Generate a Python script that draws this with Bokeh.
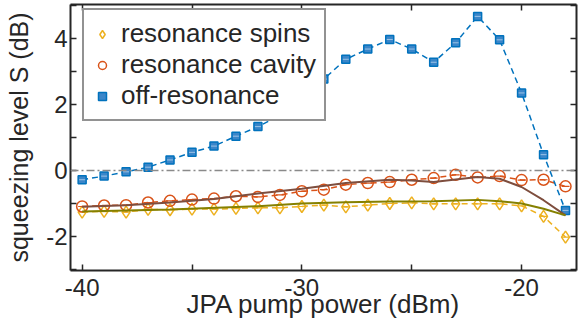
from bokeh.plotting import figure
from bokeh.models import (LinearAxis, FixedTicker, Span, Legend, LegendItem, Range1d,
                          CustomJSTickFormatter)
from bokeh.embed import file_html
from bokeh.resources import INLINE

# ---------------- data ----------------
power = [-40, -39, -38, -37, -36, -35, -34, -33, -32, -31, -30, -29,
         -28, -27, -26, -25, -24, -23, -22, -21, -20, -19, -18]

off_resonance = [-0.28, -0.17, -0.04, 0.10, 0.32, 0.55, 0.74, 1.04, 1.33, 1.67, 2.22, 2.77,
                 3.37, 3.68, 3.97, 3.68, 3.28, 3.87, 4.67, 3.96, 2.35, 0.48, -1.21]

res_cavity = [-1.09, -1.06, -1.05, -0.97, -0.92, -0.88, -0.85, -0.78, -0.80, -0.74, -0.63, -0.58,
              -0.43, -0.38, -0.35, -0.28, -0.23, -0.13, -0.21, -0.17, -0.29, -0.28, -0.48]

res_spins = [-1.26, -1.24, -1.26, -1.18, -1.19, -1.17, -1.17, -1.15, -1.13, -1.13, -1.09, -1.05,
             -1.10, -1.05, -1.00, -0.98, -1.01, -1.01, -1.01, -1.01, -1.07, -1.39, -2.02]

fit_cavity_x = [-40, -38, -36, -34, -32, -30, -28, -26, -25, -24, -23, -22, -21, -20, -19, -18]
fit_cavity_y = [-1.10, -1.05, -0.97, -0.86, -0.70, -0.55, -0.38, -0.28, -0.30, -0.35, -0.27,
                -0.20, -0.25, -0.50, -0.90, -1.36]

fit_spins_x = [-40, -36, -32, -30, -28, -26, -24, -22, -21, -20, -19, -18]
fit_spins_y = [-1.24, -1.18, -1.08, -1.00, -0.96, -0.94, -0.93, -0.89, -0.93, -1.00, -1.16, -1.36]

x_major = [-40, -30, -20]
x_minor = [-35, -25]
y_major = [-2, 0, 2, 4]
y_minor = [-3, -1, 1, 3, 5]
zero_level = 0
x_lim = (-40.53, -17.5)
y_lim = (-3.03, 5.03)

x_title = "JPA pump power (dBm)"
y_title = "squeezing level S (dB)"
labels = ["resonance spins", "resonance cavity", "off-resonance"]

# ---------------- style ----------------
FONT = "Liberation Sans"
C_BLUE = "#0072BD"
C_ORANGE = "#D95319"
C_YELLOW = "#EDB120"
C_BROWN = "#7E4E3E"
C_OLIVE = "#858000"
AX = "#262626"

p = figure(width=578, height=329, output_backend="svg", toolbar_location=None,
           x_range=Range1d(*x_lim), y_range=Range1d(*y_lim),
           x_axis_location=None, y_axis_location=None,
           min_border_left=70, min_border_right=2, min_border_top=4, min_border_bottom=59)
p.xgrid.visible = False
p.ygrid.visible = False
p.outline_line_color = None
p.background_fill_color = "white"


def style_axis(ax, show_labels, xdir):
    majors = x_major if xdir else y_major
    ax.ticker = FixedTicker(ticks=majors, minor_ticks=x_minor if xdir else y_minor)
    ax.axis_line_color = AX
    ax.axis_line_width = 2
    ax.major_tick_line_color = AX
    ax.minor_tick_line_color = AX
    ax.major_tick_line_width = 1.5
    ax.minor_tick_line_width = 1.5
    ax.major_tick_in = 6
    ax.major_tick_out = 0
    ax.minor_tick_in = 6
    ax.minor_tick_out = 0
    if show_labels:
        ax.major_label_overrides = {v: str(v) for v in majors}
        ax.major_label_text_font = FONT
        ax.major_label_text_font_size = "24px"
        ax.major_label_text_color = AX
        ax.axis_label_text_font = FONT
        ax.axis_label_text_font_size = "25px"
        ax.axis_label_text_font_style = "normal"
        ax.axis_label_text_color = AX
    else:
        ax.formatter = CustomJSTickFormatter(code="return ''")
        ax.major_label_standoff = 0


xb = LinearAxis(axis_label=x_title)
style_axis(xb, True, True)
xb.axis_label_text_font_size = "26px"
xb.major_label_standoff = 8
xb.axis_label_standoff = -10
p.add_layout(xb, "below")

yl = LinearAxis(axis_label=y_title)
style_axis(yl, True, False)
yl.major_label_standoff = 3
yl.axis_label_standoff = 10
p.add_layout(yl, "left")

xt = LinearAxis()
style_axis(xt, False, True)
p.add_layout(xt, "above")

yr = LinearAxis()
style_axis(yr, False, False)
p.add_layout(yr, "right")

p.add_layout(Span(location=zero_level, dimension="width", line_color="#8a8a8a",
                  line_width=1.5, line_dash="8 3 2 3"))

# data series
p.line(power, res_spins, line_color=C_YELLOW, line_width=1.5, line_dash="6 4")
r_spins = p.scatter(power, res_spins, marker="diamond", size=12, line_color=C_YELLOW,
                    fill_color=None, line_width=1.5)
p.scatter(power, res_spins, marker="dash", size=7, line_color=C_YELLOW, line_width=1.2)

p.line(power, res_cavity, line_color=C_ORANGE, line_width=1.5, line_dash="6 4")
r_cav = p.scatter(power, res_cavity, marker="circle", size=11, line_color=C_ORANGE,
                  fill_color=None, line_width=1.5)
p.scatter(power, res_cavity, marker="dash", size=8, line_color=C_ORANGE, line_width=1.2)

p.line(power, off_resonance, line_color=C_BLUE, line_width=1.5, line_dash="6 4")
r_off = p.scatter(power, off_resonance, marker="square", size=8, line_color=C_BLUE,
                  fill_color="#3b86c9", line_width=1.5)
p.scatter(power, off_resonance, marker="dash", size=6, line_color="#9cc3e6", line_width=1)

# fits
p.line(fit_cavity_x, fit_cavity_y, line_color=C_BROWN, line_width=2)
p.line(fit_spins_x, fit_spins_y, line_color=C_OLIVE, line_width=2)

legend = Legend(items=[LegendItem(label=labels[0], renderers=[r_spins]),
                       LegendItem(label=labels[1], renderers=[r_cav]),
                       LegendItem(label=labels[2], renderers=[r_off])],
                location=(12, 149), padding=8, spacing=-10,
                glyph_width=20, glyph_height=24, label_standoff=9,
                label_text_font=FONT, label_text_font_size="26px",
                label_text_color=AX, label_height=24,
                border_line_color=AX, border_line_width=2,
                background_fill_color="white", background_fill_alpha=1)
p.add_layout(legend)

open("out.html", "w").write(file_html(p, INLINE))
